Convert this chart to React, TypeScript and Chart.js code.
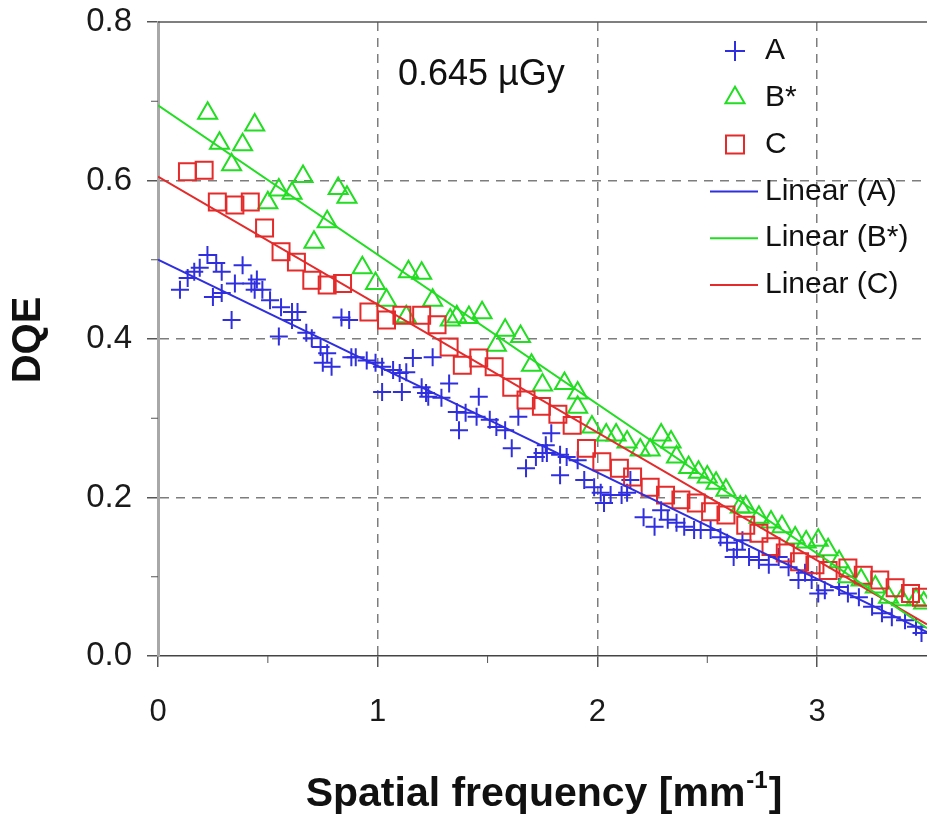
import React, { useEffect, useRef } from 'react';
import { Chart, registerables } from 'chart.js';

Chart.register(...registerables);

// ---------- data ----------
const xTicks = [0, 1, 2, 3];
const yTicks = [0, 0.2, 0.4, 0.6, 0.8];
const xMinor = [0.5, 1.5, 2.5];
const yMinor = [0.1, 0.3, 0.5, 0.7];

const aX = [0.10, 0.135, 0.165, 0.19, 0.225, 0.25, 0.265, 0.29, 0.29, 0.335, 0.35, 0.385, 0.425, 0.44, 0.45, 0.475,
  0.51, 0.55, 0.56, 0.61, 0.61, 0.635, 0.675, 0.70, 0.74, 0.75, 0.77, 0.79, 0.835, 0.87, 0.88, 0.90, 0.95, 0.99,
  1.02, 1.02, 1.07, 1.10, 1.11, 1.13, 1.16, 1.20, 1.22, 1.23, 1.25, 1.29, 1.325, 1.36, 1.37, 1.40, 1.45, 1.46,
  1.51, 1.54, 1.58, 1.61, 1.64, 1.675, 1.72, 1.75, 1.765, 1.77, 1.79, 1.83, 1.83, 1.86, 1.91, 1.94, 1.985, 2.015,
  2.03, 2.06, 2.11, 2.135, 2.15, 2.21, 2.26, 2.29, 2.32, 2.36, 2.395, 2.44, 2.47, 2.515, 2.56, 2.59, 2.62, 2.635,
  2.66, 2.69, 2.735, 2.78, 2.825, 2.87, 2.915, 2.945, 2.975, 3.005, 3.035, 3.10, 3.14, 3.19, 3.25, 3.295, 3.34,
  3.40, 3.45, 3.475];
const aY = [0.462, 0.477, 0.485, 0.49, 0.506, 0.453, 0.496, 0.485, 0.458, 0.424, 0.47, 0.493, 0.47, 0.462, 0.475, 0.462,
  0.449, 0.403, 0.44, 0.434, 0.424, 0.434, 0.408, 0.401, 0.39, 0.37, 0.382, 0.365, 0.427, 0.424, 0.377, 0.377, 0.373, 0.37,
  0.365, 0.333, 0.361, 0.357, 0.333, 0.358, 0.376, 0.339, 0.332, 0.327, 0.377, 0.326, 0.344, 0.308, 0.285, 0.307, 0.302, 0.327,
  0.298, 0.289, 0.285, 0.262, 0.302, 0.237, 0.251, 0.256, 0.266, 0.256, 0.281, 0.254, 0.228, 0.251, 0.247, 0.222, 0.213, 0.206,
  0.193, 0.203, 0.203, 0.206, 0.222, 0.175, 0.163, 0.184, 0.172, 0.168, 0.163, 0.159, 0.159, 0.159, 0.15, 0.143, 0.125, 0.134,
  0.146, 0.125, 0.121, 0.115, 0.125, 0.112, 0.096, 0.105, 0.096, 0.079, 0.083, 0.087, 0.079, 0.074, 0.062, 0.054, 0.049,
  0.045, 0.037, 0.029];

const bX = [0.226, 0.28, 0.335, 0.385, 0.44, 0.50, 0.55, 0.61, 0.66, 0.71, 0.77, 0.82, 0.86, 0.93, 0.99, 1.04, 1.13,
  1.14, 1.20, 1.25, 1.33, 1.36, 1.415, 1.475, 1.54, 1.58, 1.65, 1.70, 1.75, 1.85, 1.91, 1.91, 1.975, 2.04, 2.085,
  2.135, 2.195, 2.24, 2.29, 2.335, 2.36, 2.415, 2.46, 2.50, 2.54, 2.585, 2.65, 2.675, 2.735, 2.79, 2.84, 2.90, 2.95,
  3.005, 3.05, 3.10, 3.14, 3.20, 3.265, 3.325, 3.385, 3.45, 3.485];
const bY = [0.685, 0.647, 0.62, 0.645, 0.67, 0.572, 0.588, 0.584, 0.605, 0.522, 0.548, 0.59, 0.579, 0.49, 0.47, 0.449, 0.428,
  0.485, 0.483, 0.449, 0.424, 0.428, 0.427, 0.433, 0.392, 0.411, 0.403, 0.367, 0.342, 0.344, 0.332, 0.314, 0.289, 0.279, 0.279,
  0.27, 0.26, 0.26, 0.279, 0.27, 0.251, 0.238, 0.232, 0.226, 0.218, 0.209, 0.188, 0.188, 0.175, 0.169, 0.163, 0.149, 0.144,
  0.146, 0.134, 0.119, 0.1, 0.096, 0.087, 0.074, 0.071, 0.071, 0.067];

const cX = [0.134, 0.21, 0.27, 0.35, 0.42, 0.485, 0.56, 0.63, 0.70, 0.77, 0.84, 0.96, 1.04, 1.11, 1.20, 1.27, 1.325,
  1.385, 1.46, 1.53, 1.61, 1.675, 1.745, 1.82, 1.885, 1.95, 2.02, 2.10, 2.16, 2.24, 2.31, 2.38, 2.45, 2.515, 2.585,
  2.675, 2.735, 2.79, 2.855, 2.92, 2.99, 3.05, 3.14, 3.21, 3.285, 3.355, 3.425, 3.475];
const cY = [0.611, 0.613, 0.573, 0.569, 0.573, 0.54, 0.51, 0.497, 0.474, 0.468, 0.47, 0.434, 0.424, 0.43, 0.43, 0.418, 0.39,
  0.367, 0.376, 0.365, 0.339, 0.323, 0.315, 0.305, 0.291, 0.262, 0.245, 0.237, 0.226, 0.213, 0.203, 0.197, 0.193, 0.182, 0.178,
  0.165, 0.155, 0.138, 0.13, 0.119, 0.115, 0.108, 0.111, 0.102, 0.096, 0.086, 0.079, 0.074];

const fitX = [0, 3.5];
const fitA = [0.50, 0.03];
const fitB = [0.695, 0.035];
const fitC = [0.605, 0.04];

const seriesLabels = ['A', 'B*', 'C'];
const fitLabels = ['Linear (A)', 'Linear (B*)', 'Linear (C)'];
const annotationText = '0.645 µGy';
const yTitle = 'DQE';
const xTitleMain = 'Spatial frequency [mm';
const xTitleSup = '-1';
const xTitleEnd = ']';

// ---------- styles ----------
const BLUE = '#2f2fe0';
const GREEN = '#22dd22';
const RED = '#e42a2a';
const FONT = '"Liberation Sans", Arial, Helvetica, sans-serif';
const GRID = '#7d7d7d';

const pts = (xs: number[], ys: number[]) => xs.map((x, i) => ({ x, y: ys[i] }));

function drawMarker(ctx: CanvasRenderingContext2D, kind: string, x: number, y: number, color: string) {
  ctx.save();
  ctx.strokeStyle = color;
  ctx.lineWidth = 2;
  ctx.beginPath();
  if (kind === 'cross') {
    ctx.moveTo(x - 10, y); ctx.lineTo(x + 10, y);
    ctx.moveTo(x, y - 10); ctx.lineTo(x, y + 10);
  } else if (kind === 'triangle') {
    const r = 11;
    ctx.moveTo(x, y - r);
    ctx.lineTo(x + r * Math.cos(Math.PI / 6), y + r / 2);
    ctx.lineTo(x - r * Math.cos(Math.PI / 6), y + r / 2);
    ctx.closePath();
  } else {
    ctx.rect(x - 9, y - 9, 18, 18);
  }
  ctx.stroke();
  ctx.restore();
}

const decorPlugin = {
  id: 'decor',
  afterDraw(chart: any) {
    const { ctx, chartArea: ca, scales } = chart;
    const xs = scales.x;
    const ys = scales.y;
    ctx.save();
    // top frame line
    ctx.strokeStyle = '#555';
    ctx.lineWidth = 1.5;
    ctx.beginPath();
    ctx.moveTo(ca.left, ca.top);
    ctx.lineTo(ca.right, ca.top);
    ctx.stroke();
    // minor ticks
    ctx.lineWidth = 1;
    ctx.strokeStyle = '#555';
    ctx.beginPath();
    yMinor.forEach((v) => {
      const py = ys.getPixelForValue(v);
      ctx.moveTo(ca.left - 7, py);
      ctx.lineTo(ca.left, py);
    });
    xMinor.forEach((v) => {
      const px = xs.getPixelForValue(v);
      ctx.moveTo(px, ca.bottom);
      ctx.lineTo(px, ca.bottom + 7);
    });
    ctx.stroke();

    ctx.fillStyle = '#111';
    // annotation
    ctx.font = `36px ${FONT}`;
    ctx.textAlign = 'left';
    ctx.textBaseline = 'middle';
    ctx.fillText(annotationText, 398, 75);

    // legend
    const markerX = 735;
    const textX = 765;
    const rowY = (i: number) => 51 + i * 46.8;
    const kinds = ['cross', 'triangle', 'rect'];
    const cols = [BLUE, GREEN, RED];
    ctx.font = `30px ${FONT}`;
    seriesLabels.forEach((lab, i) => {
      drawMarker(ctx, kinds[i], markerX, rowY(i), cols[i]);
      ctx.fillStyle = '#111';
      ctx.fillText(lab, textX, rowY(i));
    });
    fitLabels.forEach((lab, i) => {
      const yy = rowY(i + 3);
      ctx.strokeStyle = cols[i];
      ctx.lineWidth = 2;
      ctx.beginPath();
      ctx.moveTo(710, yy);
      ctx.lineTo(758, yy);
      ctx.stroke();
      ctx.fillStyle = '#111';
      ctx.fillText(lab, textX, yy);
    });

    // y title
    ctx.save();
    ctx.translate(29, 340);
    ctx.rotate(-Math.PI / 2);
    ctx.font = `bold 40px ${FONT}`;
    ctx.textAlign = 'center';
    ctx.textBaseline = 'middle';
    ctx.fillText(yTitle, 0, 0);
    ctx.restore();

    // x title
    ctx.font = `bold 41px ${FONT}`;
    const w1 = ctx.measureText(xTitleMain).width;
    const w3 = ctx.measureText(xTitleEnd).width;
    ctx.font = `bold 24px ${FONT}`;
    const w2 = ctx.measureText(xTitleSup).width;
    const total = w1 + w2 + w3 + 2;
    let sx = 544 - total / 2;
    const base = 806;
    ctx.textAlign = 'left';
    ctx.textBaseline = 'alphabetic';
    ctx.font = `bold 41px ${FONT}`;
    ctx.fillText(xTitleMain, sx, base);
    sx += w1 + 1;
    ctx.font = `bold 24px ${FONT}`;
    ctx.fillText(xTitleSup, sx, base - 18);
    sx += w2 + 1;
    ctx.font = `bold 41px ${FONT}`;
    ctx.fillText(xTitleEnd, sx, base);
    ctx.restore();
  },
};

export default function App() {
  const ref = useRef<HTMLCanvasElement | null>(null);
  useEffect(() => {
    if (!ref.current) return;
    const chart = new Chart(ref.current, {
      type: 'scatter',
      data: {
        datasets: [
          {
            type: 'line', label: fitLabels[0], data: pts(fitX, fitA), borderColor: BLUE, borderWidth: 2,
            pointRadius: 0, fill: false, tension: 0, order: 0,
          } as any,
          {
            type: 'line', label: fitLabels[1], data: pts(fitX, fitB), borderColor: GREEN, borderWidth: 2,
            pointRadius: 0, fill: false, tension: 0, order: 0,
          },
          {
            type: 'line', label: fitLabels[2], data: pts(fitX, fitC), borderColor: RED, borderWidth: 2,
            pointRadius: 0, fill: false, tension: 0, order: 0,
          },
          {
            label: seriesLabels[2], data: pts(cX, cY), pointStyle: 'rect', pointRadius: 12,
            pointBorderColor: RED, pointBackgroundColor: 'rgba(0,0,0,0)', pointBorderWidth: 2, order: 1,
          },
          {
            label: seriesLabels[1], data: pts(bX, bY), pointStyle: 'triangle', pointRadius: 11,
            pointBorderColor: GREEN, pointBackgroundColor: 'rgba(0,0,0,0)', pointBorderWidth: 2, order: 1,
          },
          {
            label: seriesLabels[0], data: pts(aX, aY), pointStyle: 'cross', pointRadius: 9,
            pointBorderColor: BLUE, pointBackgroundColor: BLUE, pointBorderWidth: 2, order: 1,
          },
        ],
      },
      options: {
        responsive: false,
        animation: false,
        events: [],
        layout: { autoPadding: false, padding: { top: 22, left: 0, right: 0, bottom: 0 } },
        plugins: { legend: { display: false }, tooltip: { enabled: false } },
        scales: {
          x: {
            type: 'linear',
            min: 0,
            max: 3.5,
            afterBuildTicks: (s: any) => { s.ticks = xTicks.map((v) => ({ value: v })); },
            afterFit: (s: any) => { s.height = 158; s.paddingLeft = 0; s.paddingRight = 0; },
            ticks: {
              autoSkip: false,
              maxRotation: 0,
              padding: 27,
              color: '#1a1a1a',
              font: { size: 31, family: FONT },
              callback: (v: any) => String(v),
            },
            grid: {
              color: (c: any) => (c.tick && c.tick.value > 0 ? GRID : 'rgba(0,0,0,0)'),
              lineWidth: 1.5,
              tickColor: '#555',
              tickLength: 11,
            },
            border: { display: true, color: '#444', width: 1.5, dash: [9, 7] },
          },
          y: {
            type: 'linear',
            min: 0,
            max: 0.8,
            afterBuildTicks: (s: any) => { s.ticks = yTicks.map((v) => ({ value: v })); },
            afterFit: (s: any) => { s.width = 158; s.paddingTop = 0; s.paddingBottom = 0; },
            ticks: {
              autoSkip: false,
              padding: 15,
              color: '#1a1a1a',
              font: { size: 33, family: FONT },
              callback: (v: any) => Number(v).toFixed(1),
            },
            grid: {
              color: (c: any) => (c.tick && c.tick.value > 0 && c.tick.value < 0.8 ? GRID : 'rgba(0,0,0,0)'),
              lineWidth: 1.5,
              tickColor: '#555',
              tickLength: 11,
            },
            border: { display: true, color: '#a8a8a8', width: 3, dash: [9, 7] },
          },
        },
      },
      plugins: [decorPlugin],
    } as any);
    return () => chart.destroy();
  }, []);

  return (
    <div style={{ position: 'fixed', left: 0, top: 0, width: 927, height: 814, background: '#fff' }}>
      <canvas ref={ref} width={927} height={814} style={{ display: 'block', width: 927, height: 814 }} />
    </div>
  );
}
